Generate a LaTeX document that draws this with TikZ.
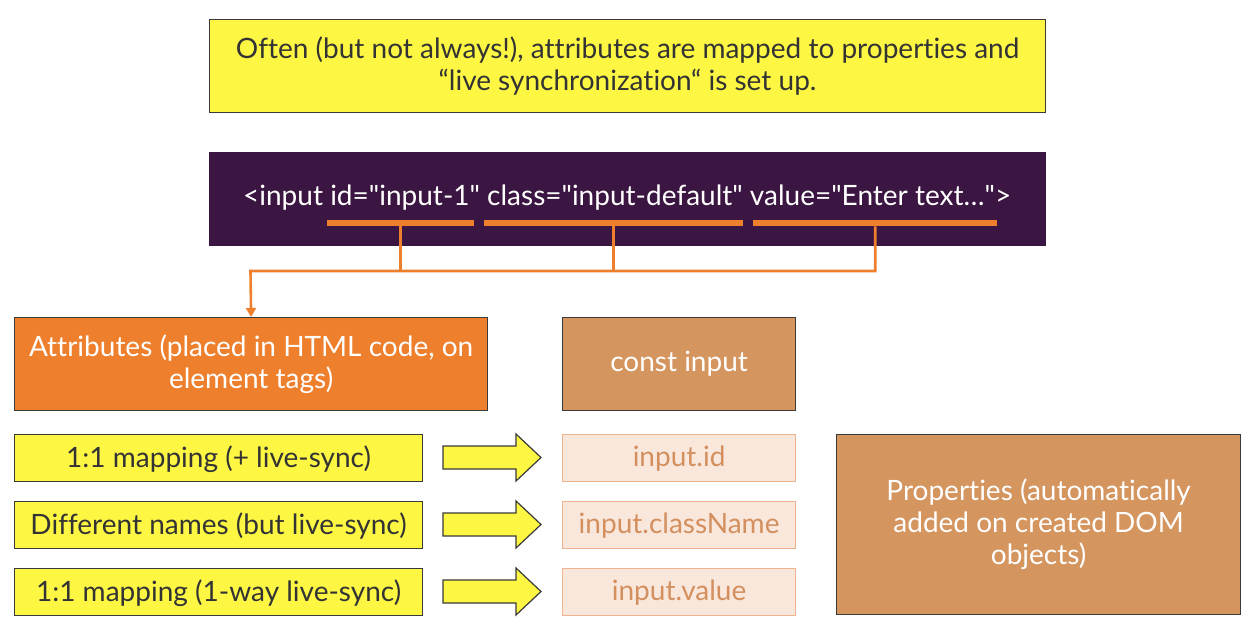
\documentclass[tikz,border=0pt]{standalone}
\usepackage{fontspec}
\setmainfont{Lato}[Ligatures={TeXOff,NoCommon}]
\usetikzlibrary{arrows.meta}
\definecolor{ylw}{HTML}{FDF744}
\definecolor{prp}{HTML}{3C1642}
\definecolor{org}{HTML}{EE7F2D}
\definecolor{tan}{HTML}{D4955F}
\definecolor{pnk}{HTML}{F9E7DC}
\definecolor{pnkb}{HTML}{EDB48F}
\definecolor{pnkt}{HTML}{D48F5E}
\definecolor{txt}{HTML}{333333}
\definecolor{bord}{HTML}{3A3A3A}
\tikzset{
  box/.style={draw=bord, line width=1.2pt, inner sep=0pt, align=center, anchor=north west},
  ybox/.style={box, fill=ylw, text=txt},
  tbox/.style={box, fill=tan, text=white},
  pbox/.style={box, fill=pnk, draw=pnkb, text=pnkt},
  uline/.style={fill=org, inner sep=0pt, minimum height=6pt, anchor=north west},
  conn/.style={draw=org, line width=2.6pt},
  barrow/.style={draw=bord, line width=1.2pt, fill=ylw},
  big/.style={font=\fontsize{28}{32}\selectfont},
}
\begin{document}
\begin{tikzpicture}[x=1pt,y=-1pt]
\useasboundingbox (0,0) rectangle (1254,640);
% top note
\node[ybox, minimum width=836pt, minimum height=93pt, big] (note) at (209,19)
  {\rule{0pt}{4pt}Often (but not always!), attributes are mapped to properties and\\“live synchronization“ is set up.};
% code box
\node[box, fill=prp, draw=prp, minimum width=836pt, minimum height=93pt] (code) at (209,152) {};
\node[text=white, big, inner sep=0pt] (codetxt) at (627,198)
  {<input id="input-1" class="input-default" value="Enter text…">};
% underlines
\node[uline, minimum width=147pt] (u1) at (327,220) {};
\node[uline, minimum width=259pt] (u2) at (484,220) {};
\node[uline, minimum width=244pt] (u3) at (753,220) {};
% attributes box
\node[box, fill=org, text=white, minimum width=473pt, minimum height=93pt, big] (attr) at (14,317)
  {Attributes (placed in HTML code, on\\element tags)};
\node[tbox, minimum width=233pt, minimum height=93pt, big] (const) at (562,317) {const input};
% connectors
\coordinate (j) at (250.5,271);
\draw[conn] (u1.south) -- (u1.south |- j);
\draw[conn] (u2.south) -- (u2.south |- j);
\draw[conn, -{Triangle[width=10pt,length=9pt]}] (u3.south) |- (j) -- (attr.north);
% rows
\foreach \i/\y/\a/\b in {1/434/{1:1 mapping (+ live-sync)}/{input.id},
                         2/501/{Different names (but live-sync)}/{input.className},
                         3/568/{1:1 mapping (1-way live-sync)}/{input.value}}{
  \node[ybox, minimum width=408pt, minimum height=47pt, big, text depth=3pt] (y\i) at (14,\y) {\a};
  \node[pbox, minimum width=233pt, minimum height=47pt, big, text depth=3pt] (p\i) at (562,\y) {\b};
  \coordinate (a\i) at (443,\y);
  \draw[barrow] (a\i) ++(0,12) -- ++(73,0) -- ++(0,-12) -- ++(25,23.5) -- ++(-25,23.5) -- ++(0,-12) -- ++(-73,0) -- cycle;
}
% properties
\node[tbox, minimum width=404pt, minimum height=180pt, big] (props) at (836,434)
  {Properties (automatically\\added on created DOM\\objects)};
\end{tikzpicture}
\end{document}
